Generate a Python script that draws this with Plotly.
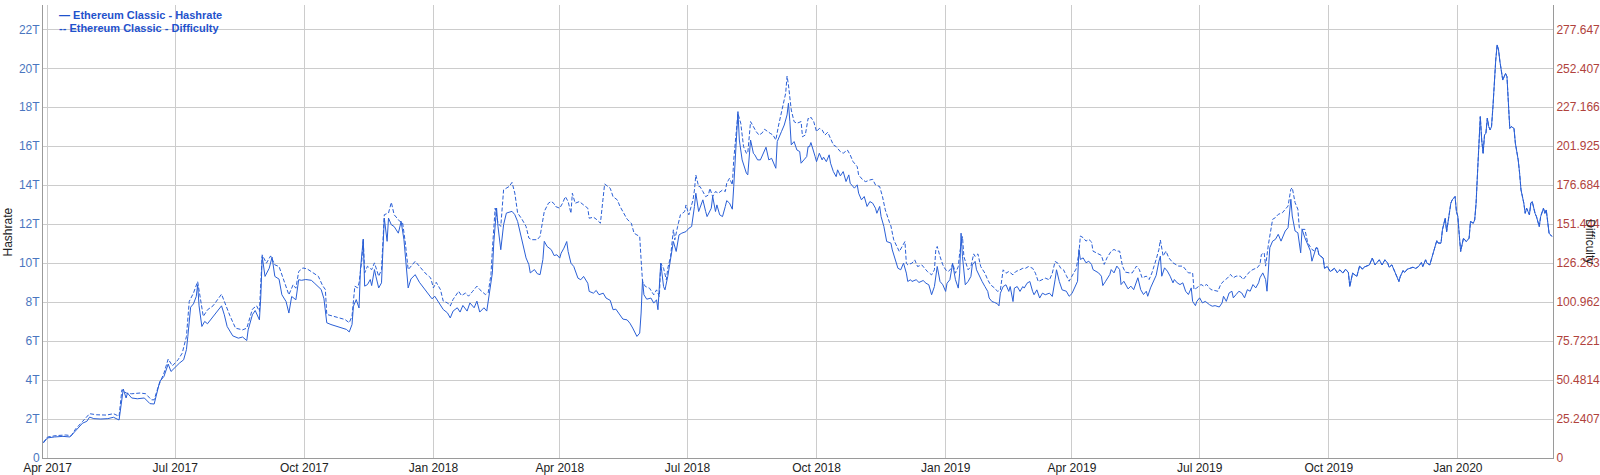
import pandas as pd
import plotly.graph_objects as go

START = pd.Timestamp("2017-04-01")

# ---- Hashrate (TH/s), pairs of (days since 2017-04-01, value) ----
hash_2017a = [(-3,0.77),(0,1.03),(5,1.08),(11,1.11),(16,1.08),(19,1.32),(22,1.54),(25,1.79),(28,1.88),(30,2.10),
    (33,2.02),(38,2.00),(43,2.02),(47,2.09),(51,1.95),(53,3.16),(54,3.54),(56,3.08),(57,3.33),(60,3.08),
    (64,3.04),(69,3.08),(73,2.79),(76,2.77),(78,3.42),(80,3.93),(83,4.19),(86,4.82),(88,4.44),(91,4.67),
    (94,4.87),(97,5.04),(99,5.56),(100,6.24),(102,7.74),(104,7.91),(106,8.29),(107,8.89),(108,7.81),(110,6.75),
    (112,7.01),(114,6.89),(117,7.18),(120,7.44),(124,7.81),(126,7.35),(128,6.75),(132,6.27),(136,6.15),(139,6.21),
    (142,6.03),(143,6.58),(146,7.35),(148,7.57),(151,7.09),(152,8.29),(153,10.34),(155,9.32),(158,9.74),(160,10.31),
    (162,9.32),(165,9.18),(167,8.38),(170,8.03),(172,7.44),(174,8.29),(177,8.12),(179,9.15)]
hash_2017b = [(181,9.12),(184,9.16),(188,9.12),(190,8.99),(193,8.78),(195,8.65),(197,8.17),(199,6.94),(202,6.85),(206,6.77),
    (209,6.68),(213,6.60),(215,6.47),(217,6.85),(218,7.79),(220,8.13),(222,7.70),(223,9.67),(225,11.24),(226,8.82),
    (228,8.90),(230,9.16),(231,8.85),(233,9.67),(234,9.33),(236,8.73),(238,8.99),(240,12.31),(242,11.12),(243,12.31),
    (245,11.97),(247,11.88),(250,11.54),(252,12.14),(254,11.20),(256,9.67),(257,8.73),(259,9.19),(262,9.41),(265,9.02),
    (268,8.73),(270,8.51),(274,8.17),(276,8.30),(279,7.96),(282,7.62),(285,7.45),(287,7.19),(289,7.54),(292,7.71),
    (294,7.49),(296,7.83),(299,7.54),(301,7.96),(304,7.71),(306,8.05),(308,7.49),(311,7.71),(313,7.54),(315,8.47),
    (317,9.50),(318,11.03),(320,12.83),(321,11.89),(323,10.69),(325,11.97),(327,12.57),(331,12.66),(333,12.49),(335,12.14),
    (338,11.20),(341,10.27),(343,9.93),(344,9.50),(347,9.67),(349,9.46),(351,9.41),(353,10.18),(354,11.12),(356,10.86),
    (359,10.69),(361,10.39)]
hash_2018a = [(363,10.43),(365,10.26),(366,10.51),(368,10.77),(370,11.11),(371,10.60),(373,10.00),(375,9.83),(378,9.23),(380,9.15),
    (382,9.32),(385,8.97),(386,8.55),(389,8.46),(391,8.60),(393,8.38),(396,8.46),(398,8.21),(401,8.09),(403,7.61),
    (405,7.64),(408,7.35),(410,7.13),(413,7.09),(415,6.92),(417,6.67),(419,6.32),(420,6.24),(422,6.41),(423,7.44),
    (424,9.15),(425,8.38),(427,8.15),(430,8.21),(432,7.95),(434,8.12),(435,7.61),(437,10.00),(439,8.80),(440,8.63),
    (442,9.32),(443,9.83),(445,10.68),(446,11.11),(448,10.60),(450,11.45),(452,11.54),(455,11.62),(457,11.79),(459,11.88),
    (461,12.91),(462,13.59),(464,12.65),(465,12.82),(467,13.25),(469,12.65),(470,12.39),(473,12.82),(474,13.42),(476,12.65),
    (477,12.99),(479,12.48),(481,12.39),(483,12.91),(484,13.21),(486,13.08),(488,12.77),(489,13.93),(491,16.15),(492,17.78),
    (493,16.32),(495,15.30),(498,14.62),(499,14.53),(501,16.32),(503,15.64),(504,15.56),(506,15.30),(508,15.30),(511,15.85),
    (512,15.95),(514,15.30),(516,15.38),(519,14.87),(520,16.24),(523,16.75),(525,17.09),(527,17.61),(528,18.21),(529,17.26),
    (530,16.07),(532,16.24),(534,15.81),(536,15.73),(537,15.13),(539,15.30),(541,15.47),(542,15.98)]
hash_2018b = [(543,15.98),(544,16.19),(545,15.90),(547,15.47),(548,15.21),(550,15.64),(552,15.30),(553,15.44),(555,15.21),(557,15.56),
    (558,15.13),(560,14.70),(562,14.44),(563,14.79),(565,14.48),(567,14.70),(569,14.19),(571,14.53),(572,14.10),(575,13.85),
    (577,14.02),(578,13.59),(580,13.25),(582,13.42),(584,12.91),(586,13.16),(588,13.08),(590,12.82),(591,12.56),(593,12.91),
    (594,12.39),(596,11.88),(598,11.11),(601,11.03),(602,10.68),(604,10.17),(606,9.74),(608,9.66),(610,10.00),(612,9.49),
    (613,9.06),(615,9.15),(616,9.06),(619,9.15),(621,9.01),(624,9.11),(626,8.97),(628,8.89),(630,8.38),(632,8.80),
    (634,9.83),(636,9.06),(638,8.89),(640,8.55),(641,8.97),(643,9.15),(645,9.97),(647,9.15),(649,8.72),(650,9.49),
    (651,11.54),(652,10.34),(654,8.89),(656,9.06),(658,9.32),(659,9.91),(661,10.09),(662,9.66),(664,9.32),(666,9.06),
    (668,8.80),(670,8.55),(671,8.21),(673,8.03),(675,7.98),(677,7.91),(678,7.81),(679,8.46),(681,8.80),(683,8.89),
    (685,8.55),(686,8.80),(688,8.03),(689,8.72),(691,8.80),(693,8.55),(695,8.80),(696,8.72),(698,8.97),(700,9.06),
    (702,8.55),(703,8.38),(705,8.63),(707,8.21),(709,8.46),(711,8.38),(714,8.46),(716,8.29),(718,9.15),(719,9.66),
    (721,9.06),(723,8.63)]
hash_2019 = [(726,8.56),(728,8.30),(730,8.44),(732,8.73),(734,9.07),(735,10.70),(736,10.19),(738,10.27),(740,10.02),(742,10.10),
    (744,9.93),(745,9.67),(747,9.59),(749,9.50),(751,9.33),(752,8.85),(754,9.07),(757,9.42),(758,9.67),(760,9.50),
    (762,9.85),(764,9.67),(765,8.90),(767,9.07),(770,8.68),(772,8.82),(774,8.64),(777,9.25),(779,8.64),(781,8.39),
    (783,8.56),(784,8.30),(786,8.73),(788,9.07),(790,9.37),(792,10.10),(793,10.36),(794,9.33),(796,9.76),(798,9.59),
    (800,9.33),(802,8.99),(803,9.16),(805,8.99),(807,8.90),(809,8.99),(811,8.56),(813,8.39),(815,8.73),(816,8.04),
    (818,7.82),(819,8.04),(821,8.22),(823,7.96),(825,8.04),(828,7.87),(830,7.79),(832,7.82),(835,7.75),(837,7.96),
    (838,8.30),(840,8.04),(842,8.47),(844,8.56),(845,8.22),(847,8.39),(849,8.56),(851,8.47),(853,8.22),(855,8.64),
    (857,8.56),(859,8.90),(861,8.73),(863,8.99),(864,9.25),(866,9.50),(868,9.16),(869,8.56),(871,10.79),(873,11.13),
    (875,11.22),(877,11.48),(879,11.13),(882,11.65),(884,11.82),(886,13.28),(887,12.42),(889,11.65),(891,11.56),(893,10.53),
    (894,11.73),(896,11.30),(898,10.96),(900,10.62),(901,10.10),(903,10.53),(904,10.79)]
hash_2020 = [(905,10.77),(906,10.43),(909,10.26),(910,9.74),(912,9.83),(914,9.57),(916,9.66),(917,9.74),(919,9.52),(921,9.66),
    (923,9.49),(925,9.69),(927,9.52),(928,8.80),(930,9.49),(932,9.40),(933,9.32),(935,9.86),(937,9.69),(938,9.79),
    (940,9.86),(942,9.91),(944,10.26),(946,9.91),(947,10.00),(949,10.17),(951,9.91),(953,10.17),(955,10.00),(956,9.79),
    (958,9.91),(960,9.57),(961,9.40),(963,9.06),(964,9.32),(966,9.62),(967,9.52),(969,9.69),(971,9.74),(973,9.79),
    (975,9.73),(977,9.83),(979,10.03),(980,9.83),(982,10.17),(983,10.00),(985,9.91),(986,10.17),(988,10.68),(990,11.16),
    (991,11.03),(993,11.03),(994,11.71),(996,12.31),(997,11.62),(998,12.14),(1000,13.08),(1001,13.25),(1003,13.42),(1004,12.65),
    (1005,12.39),(1006,11.45),(1007,10.60),(1008,10.94),(1009,11.28),(1011,11.11),(1013,11.28),(1014,12.14),(1016,12.05),(1017,12.22),
    (1018,13.08),(1019,14.62),(1020,16.32),(1021,17.52),(1022,16.32),(1023,15.64),(1024,16.58),(1025,16.67),(1026,17.44),(1027,17.01),
    (1028,16.84),(1029,17.01),(1030,18.03),(1031,19.40),(1032,20.43),(1033,21.20),(1034,20.94),(1035,20.34),(1036,19.74),(1037,19.40),
    (1038,19.57),(1039,19.74),(1040,19.57),(1041,18.38),(1042,16.92),(1043,17.01),(1045,16.92),(1046,16.15),(1048,15.30),(1049,14.62),
    (1050,13.76),(1052,13.08),(1053,12.56),(1054,12.82),(1056,12.48),(1057,13.08),(1058,13.16),(1060,12.56),(1061,12.39),(1063,11.88),
    (1064,12.39),(1066,12.82),(1067,12.56),(1068,12.73),(1069,12.05),(1070,11.54),(1072,11.37)]

# ---- Difficulty (T), pairs of (days since 2017-04-01, value) ----
diff_2017a = [(-3,10.1),(0,13.6),(6,14.5),(13,14.9),(17,14.5),(20,18.8),(25,23.7),(30,28.7),(35,28.0),(42,27.8),
    (47,28.7),(51,27.0),(53,44.2),(56,42.1),(60,41.6),(66,42.1),(70,41.6),(74,37.7),(76,37.7),(79,46.4),
    (83,55.0),(86,64.1),(89,59.7),(93,63.6),(96,67.9),(99,78.7),(101,101.4),(104,106.8),(107,114.3),(109,101.4),
    (111,91.7),(114,96.0),(118,98.6),(124,106.1),(126,101.4),(130,92.1),(134,84.1),(139,83.0),(142,84.1),(146,96.4),
    (149,98.6),(151,94.9),(153,131.6),(156,126.2),(159,130.9),(162,125.1),(165,124.0),(169,113.2),(172,105.7),(175,112.2),
    (177,110.0),(179,120.8)]
diff_2017b = [(182,123.1),(185,122.5),(189,120.3),(193,117.7),(196,111.7),(198,109.1),(199,93.0),(203,91.9),(208,90.9),(212,89.7),
    (215,87.6),(217,91.9),(219,111.3),(221,110.2),(222,113.4),(224,128.5),(225,141.4),(226,119.9),(228,124.2),(231,122.0),
    (233,126.4),(236,117.7),(238,122.0),(240,157.6),(243,158.7),(245,165.6),(247,157.6),(251,153.3),(253,152.6),(255,139.3),
    (257,122.0),(259,124.2),(262,127.4),(265,124.2),(269,119.9),(273,116.7),(275,110.2),(277,113.8),(280,109.1),(282,101.6),
    (285,100.5),(287,98.4),(289,102.7),(293,108.0),(295,105.2),(298,106.9),(300,104.8),(303,108.0),(306,111.3),(308,109.1),
    (312,105.9),(314,106.9),(316,118.8),(317,134.9),(319,161.9),(321,152.2),(323,150.0),(325,173.7),(329,175.9),(331,178.5),
    (333,171.6),(335,158.7),(338,154.8),(341,150.0),(343,142.5),(345,141.4),(349,141.4),(351,143.6),(354,159.7),(357,165.1),
    (359,166.2),(361,164.7)]
diff_2018a = [(362,162.9),(365,161.8),(367,165.0),(369,169.3),(371,166.1),(373,158.5),(374,171.5),(376,165.0),(379,166.1),(382,163.9),
    (385,161.8),(386,155.3),(389,156.0),(391,154.7),(394,152.1),(397,177.5),(398,176.9),(401,174.7),(403,169.3),(406,167.2),
    (408,162.9),(411,158.5),(413,154.7),(416,152.1),(418,145.6),(420,144.5),(422,143.4),(423,128.3),(424,114.3),(426,111.1),
    (429,110.0),(432,105.7),(434,108.9),(436,104.6),(437,126.2),(439,122.9),(441,115.4),(442,122.9),(444,130.5),(446,147.8),
    (447,141.3),(449,149.9),(451,157.5),(454,159.6),(455,163.9),(457,157.5),(460,167.2),(461,173.6),(462,183.3),(464,175.8),
    (465,175.8),(467,172.6),(469,169.3),(471,170.4),(472,174.7),(474,169.3),(476,172.6),(478,171.5),(481,173.6),(483,172.6),
    (484,178.0),(486,181.2),(488,176.9),(489,193.1),(491,214.6),(492,223.2),(494,216.8),(496,201.7),(498,197.4),(499,197.4),
    (501,217.9),(503,214.6),(505,211.4),(507,209.2),(509,210.3),(511,212.9),(513,211.4),(515,210.3),(517,209.2),(519,206.0),
    (521,215.7),(523,223.2),(526,236.2),(527,247.4),(528,241.6),(530,225.4),(532,217.9),(534,216.8),(537,217.9),(538,208.1),
    (540,209.2),(542,220.0)]
diff_2018b = [(543,219.4),(544,220.7),(546,217.9),(548,211.4),(550,213.5),(552,212.5),(554,209.2),(556,211.0),(558,207.1),(560,202.8),
    (562,201.7),(565,198.4),(567,197.4),(570,199.5),(572,196.3),(574,192.0),(577,188.7),(578,183.3),(581,180.1),(583,179.0),
    (586,180.1),(588,180.5),(590,176.9),(593,175.8),(595,169.3),(597,160.7),(600,152.5),(601,150.3),(603,141.3),(605,137.0),
    (607,133.7),(609,137.0),(611,140.2),(612,126.2),(613,125.1),(616,126.2),(618,128.3),(620,124.0),(623,125.1),(625,122.9),
    (627,120.8),(630,118.6),(632,121.9),(633,134.8),(634,137.0),(636,130.5),(638,125.1),(640,121.9),(642,120.8),(644,122.9),
    (645,126.2),(647,119.7),(649,124.0),(650,132.7),(652,143.4),(653,130.5),(656,121.9),(658,124.0),(660,132.2),(661,130.5),
    (663,132.2),(665,124.0),(668,119.7),(670,115.4),(672,112.2),(675,110.0),(677,107.9),(679,108.9),(681,121.9),(683,119.7),
    (685,120.8),(688,118.6),(690,120.8),(693,121.9),(695,122.9),(697,122.9),(699,124.0),(702,122.9),(704,119.7),(706,114.3),
    (709,115.4),(711,116.5),(714,115.4),(716,119.7),(718,127.3),(720,126.2),(722,122.9),(724,121.9)]
diff_2019 = [(726,118.2),(728,114.5),(730,117.8),(733,122.5),(735,132.9),(736,143.8),(738,142.7),(740,140.5),(742,141.6),(744,139.9),
    (745,134.0),(747,132.9),(749,131.8),(751,131.2),(753,125.4),(755,129.7),(758,134.0),(760,135.1),(762,134.0),(764,134.0),
    (766,124.3),(768,120.4),(771,119.9),(773,119.9),(776,124.3),(778,122.1),(780,116.7),(783,117.8),(785,115.6),(787,119.9),
    (790,128.6),(792,135.1),(793,141.2),(795,130.8),(797,134.0),(799,129.7),(802,126.4),(804,125.4),(806,124.3),(809,124.3),
    (811,122.1),(813,119.9),(816,119.9),(817,109.1),(819,110.2),(822,112.4),(824,111.3),(826,112.4),(829,109.1),(831,108.7),
    (834,108.0),(836,112.4),(838,114.5),(841,116.7),(843,118.9),(845,116.7),(847,117.8),(850,117.8),(852,115.6),(855,118.9),
    (857,121.0),(859,122.1),(862,123.2),(864,125.4),(865,131.8),(867,132.9),(868,124.3),(870,138.3),(871,143.8),(873,154.6),
    (875,155.7),(877,157.8),(880,158.9),(882,161.1),(884,163.2),(886,174.1),(887,175.1),(889,165.4),(891,161.1),(892,149.2),
    (894,148.1),(896,148.1),(898,139.4),(901,135.1),(903,134.0),(904,136.2)]
diff_2020 = [(905,135.9),(906,131.6),(909,129.5),(910,122.9),(912,124.0),(914,120.8),(916,121.9),(917,122.9),(919,120.1),(921,121.9),
    (923,119.7),(925,122.3),(927,120.1),(928,111.1),(930,119.7),(932,118.6),(933,117.6),(935,124.4),(937,122.3),(938,123.6),
    (940,124.4),(942,125.1),(944,129.5),(946,125.1),(947,126.2),(949,128.4),(951,125.1),(953,128.4),(955,126.2),(956,123.6),
    (958,125.1),(960,120.8),(961,118.6),(963,114.3),(964,117.6),(966,121.4),(967,120.1),(969,122.3),(971,122.9),(973,123.6),
    (975,122.8),(977,124.0),(979,126.6),(980,124.0),(982,128.4),(983,126.2),(985,125.1),(986,128.4),(988,134.8),(990,140.8),
    (991,139.2),(993,139.2),(994,147.8),(996,155.4),(997,146.6),(998,153.2),(1000,165.1),(1001,167.2),(1003,169.4),(1004,159.6),
    (1005,156.4),(1006,144.5),(1007,133.8),(1008,138.1),(1009,142.4),(1011,140.2),(1013,142.4),(1014,153.2),(1016,152.1),(1017,154.2),
    (1018,165.1),(1019,184.5),(1020,206.0),(1021,221.1),(1022,206.0),(1023,197.4),(1024,209.2),(1025,210.4),(1026,220.1),(1027,214.7),
    (1028,212.5),(1029,214.7),(1030,227.5),(1031,244.8),(1032,257.8),(1033,267.5),(1034,264.3),(1035,256.7),(1036,249.1),(1037,244.8),
    (1038,247.0),(1039,249.1),(1040,247.0),(1041,231.9),(1042,213.5),(1043,214.7),(1045,213.5),(1046,203.8),(1048,193.1),(1049,184.5),
    (1050,173.7),(1052,165.1),(1053,158.5),(1054,161.8),(1056,157.5),(1057,165.1),(1058,166.1),(1060,158.5),(1061,156.4),(1063,149.9),
    (1064,156.4),(1066,161.8),(1067,158.5),(1068,160.7),(1069,152.1),(1070,145.6),(1072,143.5)]

HASH_TICKS = ["0", "2T", "4T", "6T", "8T", "10T", "12T", "14T", "16T", "18T", "20T", "22T"]
DIFF_TICKS = ["0", "25.2407", "50.4814", "75.7221", "100.962", "126.203", "151.444",
              "176.684", "201.925", "227.166", "252.407", "277.647"]

hash_pts = hash_2017a + hash_2017b + hash_2018a + hash_2018b + hash_2019 + hash_2020
diff_pts = diff_2017a + diff_2017b + diff_2018a + diff_2018b + diff_2019 + diff_2020

def to_dates(pts):
    return [START + pd.Timedelta(days=d) for d, _ in pts]

LINE = "#2a5fd6"

fig = go.Figure()
fig.add_trace(go.Scatter(x=to_dates(hash_pts), y=[v for _, v in hash_pts],
                         name="Ethereum Classic - Hashrate", mode="lines",
                         line=dict(color=LINE, width=1), yaxis="y"))
fig.add_trace(go.Scatter(x=to_dates(diff_pts), y=[v for _, v in diff_pts],
                         name="Ethereum Classic - Difficulty", mode="lines",
                         line=dict(color=LINE, width=1, dash="4px,2px"), yaxis="y2"))

hash_max = 23.25
diff_scale = float(DIFF_TICKS[-1]) / float(HASH_TICKS[-1].rstrip("T"))

fig.update_layout(
    width=1600, height=475,
    margin=dict(l=43, r=47, t=5, b=16.5),
    plot_bgcolor="white", paper_bgcolor="white",
    showlegend=False,
    font=dict(family="Liberation Sans, Arial, sans-serif", size=12, color="#222222"),
    xaxis=dict(type="date", automargin=False,
               range=[START - pd.Timedelta(hours=77), START + pd.Timedelta(days=1072.8)],
               tick0="2017-04-01", dtick="M3", tickformat="%b %Y",
               showgrid=True, gridcolor="#cccccc", gridwidth=1,
               showline=True, linecolor="#9a9a9a", linewidth=1,
               ticks="", zeroline=False, ticklabelstandoff=-1,
               tickfont=dict(size=12, color="#222222")),
    yaxis=dict(range=[0, hash_max], automargin=False,
               tickvals=[float(t.rstrip("T")) for t in HASH_TICKS], ticktext=HASH_TICKS,
               showgrid=True, gridcolor="#cccccc", gridwidth=1,
               showline=True, linecolor="#9a9a9a", linewidth=1,
               ticks="", zeroline=False, ticklabelstandoff=0,
               tickfont=dict(size=12, color="#4a76c0")),
    yaxis2=dict(overlaying="y", side="right", range=[0, hash_max * diff_scale], automargin=False,
                tickvals=[float(t) for t in DIFF_TICKS], ticktext=DIFF_TICKS,
                showgrid=False, showline=True, linecolor="#9a9a9a", linewidth=1,
                ticks="", zeroline=False, ticklabelstandoff=0,
                tickfont=dict(size=12, color="#b0423c")),
    annotations=[
        dict(text="Hashrate", textangle=-90, xref="paper", yref="paper",
             x=-0.0232, y=0.5, xanchor="center", yanchor="middle", showarrow=False,
             font=dict(size=12, color="#222222")),
        dict(text="Difficulty", textangle=90, xref="paper", yref="paper",
             x=1.0240, y=0.478, xanchor="center", yanchor="middle", showarrow=False,
             font=dict(size=12, color="#222222")),
        dict(text="<b>\u2014 Ethereum Classic - Hashrate</b>", xref="paper", yref="paper",
             x=0.0093, y=0.978, xanchor="left", yanchor="middle", showarrow=False,
             font=dict(size=11, color="#1f52cc")),
        dict(text="<b>-- Ethereum Classic - Difficulty</b>", xref="paper", yref="paper",
             x=0.0093, y=0.949, xanchor="left", yanchor="middle", showarrow=False,
             font=dict(size=11, color="#1f52cc")),
    ],
)

fig.write_html("out.html", config={"displayModeBar": False},
               post_script="document.body.style.margin='0px';document.body.style.overflow='hidden';")
